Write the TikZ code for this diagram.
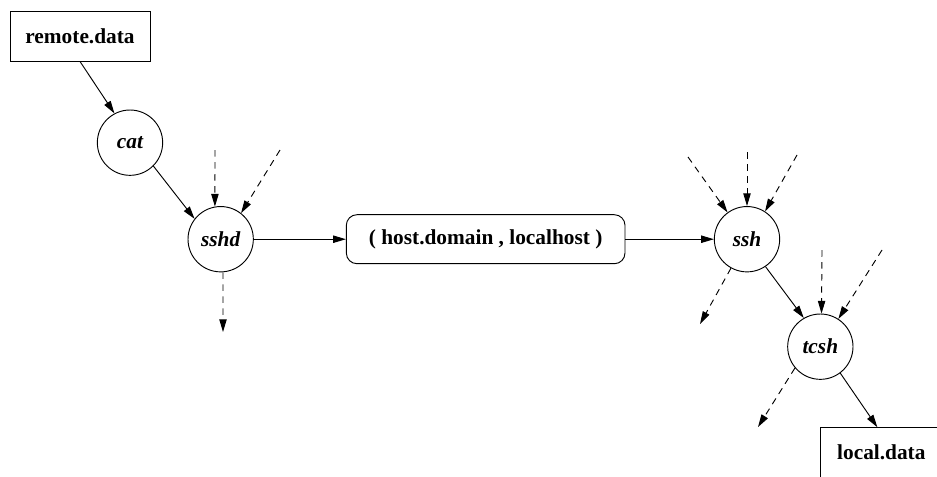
\documentclass[tikz,border=0pt]{standalone}
\usepackage{fontspec}
\setmainfont{Liberation Serif}
\usetikzlibrary{positioning}
\usetikzlibrary{arrows.meta}

\begin{document}
\begin{tikzpicture}[x=0.75pt, y=-0.75pt, on grid,
                >={Triangle[length=9.5pt, width=5.5pt]},
                filenode/.style={rectangle, draw, line width=0.7pt, minimum width=105pt, minimum height=37.5pt, font=\fontsize{16}{19}\selectfont\bfseries},
                procnode/.style={circle, draw, line width=0.7pt, minimum size=49pt, inner sep=0pt, font=\fontsize{16}{19}\selectfont\bfseries\itshape},
                tunnelnode/.style={rectangle, rounded corners=8pt, draw, line width=0.7pt, minimum width=209pt, minimum height=36.75pt, font=\fontsize{16}{19}\selectfont\bfseries},
                flow/.style={->, line width=0.7pt},
                sideflow/.style={->, line width=0.7pt, dash pattern=on 5pt off 4pt},
                ]
                \useasboundingbox (0,0) rectangle (937,476);
                \clip (0,0) rectangle (937,476);

                \node[filenode] (RD) at (80,36) {remote.data};
                \node[procnode, below right=80pt and 37.5pt of RD] (CAT) {cat};
                \node[procnode, below right=72.4pt and 68pt of CAT] (SSHD) {sshd};
                \node[tunnelnode, right=198.75pt of SSHD] (TUN) {( host.domain , localhost )};
                \node[procnode, right=196pt of TUN] (SSH) {ssh};
                \node[procnode, below right=80.6pt and 55pt of SSH] (TCSH) {tcsh};
                \node[filenode, minimum width=91pt, below right=79.5pt and 45.75pt of TCSH] (LD) {local.data};

                % free ends of the dashed streams
                \coordinate (SSHDinA) at (215,150);
                \coordinate (SSHDinB) at (280,150);
                \coordinate (SSHDout) at (223,332);
                \coordinate (SSHinA) at (688,157);
                \coordinate (SSHinB) at (747,152);
                \coordinate (SSHinC) at (797,155);
                \coordinate (SSHout) at (700,324);
                \coordinate (TCSHinA) at (822,250);
                \coordinate (TCSHinB) at (882,250);
                \coordinate (TCSHout) at (758,427);

                \draw[flow] (RD.south) -- (CAT.118);
                \draw[flow] (CAT.-45) -- (SSHD.142);
                \draw[flow] (SSHD.east) -- (TUN.west);
                \draw[flow] (TUN.east) -- (SSH.west);
                \draw[flow] (SSH.-56) -- (TCSH.120);
                \draw[flow] (TCSH.-53.5) -- ([xshift=-3pt]LD.north);

                \draw[sideflow] (SSHDinA) -- (SSHD.100);
                \draw[sideflow] (SSHDinB) -- (SSHD.52);
                \draw[sideflow] (SSHD.-86) -- (SSHDout);

                \draw[sideflow] (SSHinA) -- (SSH.126);
                \draw[sideflow] (SSHinB) -- (SSH.north);
                \draw[sideflow] (SSHinC) -- (SSH.57);
                \draw[sideflow] (SSH.-119) -- (SSHout);

                \draw[sideflow] (TCSHinA) -- (TCSH.88);
                \draw[sideflow] (TCSHinB) -- (TCSH.57);
                \draw[sideflow] (TCSH.-140) -- (TCSHout);
            \end{tikzpicture}
\end{document}
